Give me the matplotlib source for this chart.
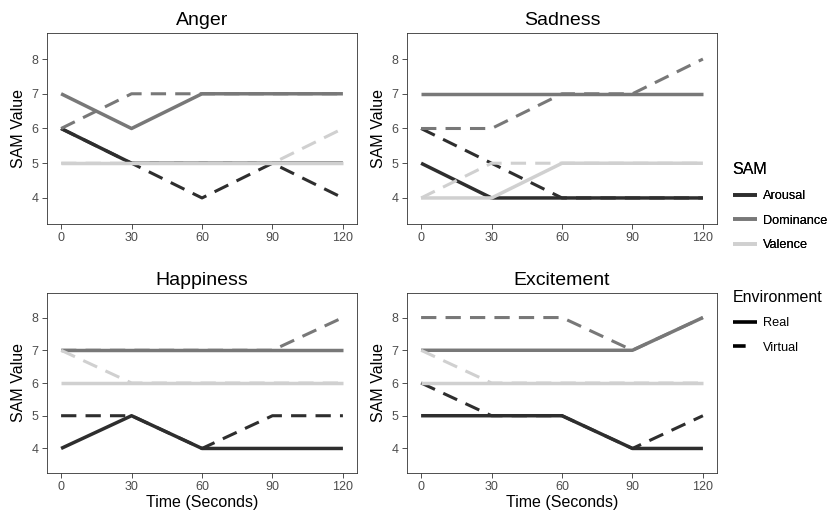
import matplotlib.pyplot as plt
from matplotlib.lines import Line2D

plt.rcParams['font.family'] = ['Liberation Sans', 'DejaVu Sans']

# data
time = [0, 30, 60, 90, 120]
emotions = ["Anger", "Sadness", "Happiness", "Excitement"]
sam_scales = ["Arousal", "Dominance", "Valence"]
environments = ["Real", "Virtual"]

anger_real = {"Arousal": [6, 5, 5, 5, 5], "Dominance": [7, 6, 7, 7, 7], "Valence": [5, 5, 5, 5, 5]}
anger_virtual = {"Arousal": [6, 5, 4, 5, 4], "Dominance": [6, 7, 7, 7, 7], "Valence": [5, 5, 5, 5, 6]}

sadness_real = {"Arousal": [5, 4, 4, 4, 4], "Dominance": [7, 7, 7, 7, 7], "Valence": [4, 4, 5, 5, 5]}
sadness_virtual = {"Arousal": [6, 5, 4, 4, 4], "Dominance": [6, 6, 7, 7, 8], "Valence": [4, 5, 5, 5, 5]}

happiness_real = {"Arousal": [4, 5, 4, 4, 4], "Dominance": [7, 7, 7, 7, 7], "Valence": [6, 6, 6, 6, 6]}
happiness_virtual = {"Arousal": [5, 5, 4, 5, 5], "Dominance": [7, 7, 7, 7, 8], "Valence": [7, 6, 6, 6, 6]}

excitement_real = {"Arousal": [5, 5, 5, 4, 4], "Dominance": [7, 7, 7, 7, 8], "Valence": [6, 6, 6, 6, 6]}
excitement_virtual = {"Arousal": [6, 5, 5, 4, 5], "Dominance": [8, 8, 8, 7, 8], "Valence": [7, 6, 6, 6, 6]}

data = {
    "Anger": (anger_real, anger_virtual),
    "Sadness": (sadness_real, sadness_virtual),
    "Happiness": (happiness_real, happiness_virtual),
    "Excitement": (excitement_real, excitement_virtual),
}

colors = {"Arousal": "#2e2e2e", "Dominance": "#787878", "Valence": "#d0d0d0"}
LW = 2.2
DASH = (5, 3)

fig = plt.figure(figsize=(8.31, 5.19), dpi=100)

W, H = 831, 519
lefts = [47, 407]
tops = [33, 293]
bottoms = [224, 473]
aw = 310

for i, emo in enumerate(emotions):
    r, c = divmod(i, 2)
    l = lefts[c]
    t = tops[r]
    b = bottoms[r]
    ax = fig.add_axes([l / W, 1 - b / H, aw / W, (b - t) / H])
    real, virtual = data[emo]
    for s in sam_scales:
        ax.plot(time, virtual[s], color=colors[s], lw=LW, dashes=DASH, solid_capstyle='butt')
        # a touch wider so the dashed line underneath does not show through
        ax.plot(time, real[s], color=colors[s], lw=LW + 0.3, solid_capstyle='butt')
    ax.set_xlim(-6, 126)
    ax.set_ylim(3.25, 8.75)
    ax.set_xticks(time)
    ax.set_yticks([4, 5, 6, 7, 8])
    ax.set_title(emo, fontsize=14, pad=6)
    ax.set_ylabel("SAM Value", fontsize=11.5, labelpad=4)
    if r == 1:
        ax.set_xlabel("Time (Seconds)", fontsize=11.5, labelpad=1)
    ax.tick_params(labelsize=9, labelcolor="#4d4d4d", color="#333333", length=3.5, width=0.6, pad=2.5)
    for sp in ax.spines.values():
        sp.set_color("#333333")
        sp.set_linewidth(0.6)

sam_handles = [Line2D([], [], color=colors[s], lw=LW + 0.4, solid_capstyle='butt') for s in sam_scales]
leg1 = fig.legend(sam_handles, sam_scales, title="SAM", loc="upper left",
                  bbox_to_anchor=(721 / W, 1 - 151 / H), frameon=False, fontsize=9.2,
                  title_fontsize=11.5, handlelength=1.9, labelspacing=0.98, alignment="left",
                  handletextpad=0.5)
env_handles = [Line2D([], [], color="black", lw=LW + 0.4, solid_capstyle='butt'),
               Line2D([], [], color="black", lw=LW + 0.4, dashes=(3.5, 6))]
leg2 = fig.legend(env_handles, environments, title="Environment", loc="upper left",
                  bbox_to_anchor=(721 / W, 1 - 278 / H), frameon=False, fontsize=9.2,
                  title_fontsize=11.5, handlelength=1.9, labelspacing=0.98, alignment="left",
                  handletextpad=0.5)
fig.add_artist(leg1)

fig.savefig("out.png", dpi=100)
